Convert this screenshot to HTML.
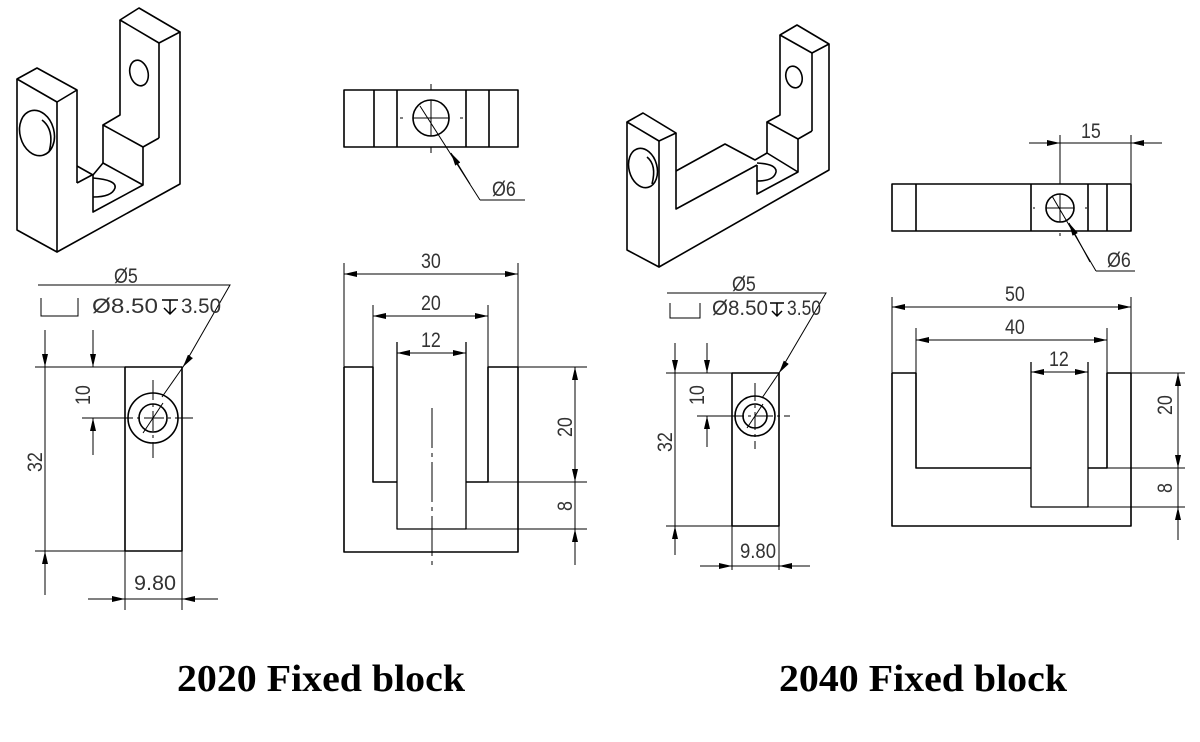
<!DOCTYPE html>
<html><head><meta charset="utf-8"><style>
html,body{margin:0;padding:0;background:#fff}
svg{display:block}
.l{stroke:#000;stroke-width:1.6;fill:none;stroke-linejoin:round}
.t{stroke:#000;stroke-width:1;fill:none}
.d{font-family:"Liberation Sans",sans-serif;font-size:21px;fill:#333}
.h{font-family:"Liberation Serif",serif;font-weight:bold;font-size:38px;fill:#000}
</style></head><body>
<svg width="1200" height="742" viewBox="0 0 1200 742" xmlns="http://www.w3.org/2000/svg">
<defs>
<marker id="a" markerUnits="userSpaceOnUse" markerWidth="14" markerHeight="6" refX="13" refY="3" orient="auto"><path d="M0,0 L13,3 L0,6 z" fill="#000"/></marker>
</defs>

<!-- ISO 1 -->
<g class="l">
<path d="M17,79 L37,68 L77,90 L57,102 Z"/>
<path d="M17,79 L17,230 L57,252 L57,102"/>
<path d="M57,252 L180,184 L180,32"/>
<path d="M77,90 L77,183"/>
<path d="M120,20 L139,8 L180,32 L159,43 Z"/>
<path d="M159,43 L159,138"/>
<path d="M120,20 L120,115 L103,125 L143,147 L159,138"/>
<path d="M103,125 L103,163"/>
<path d="M143,147 L143,185 L93,212 L93,175"/>
<path d="M77,166 L93,175 L103,163 L143,185"/>
<path d="M77,183 L92,175"/>
<path d="M93,178 Q117,180 115,188 Q112,197 93,197"/>
<ellipse cx="37" cy="133" rx="17" ry="23" transform="rotate(-15 37 133)"/>
<path d="M42,120 Q55,130 49,152"/>
<ellipse cx="139" cy="73" rx="9" ry="13" transform="rotate(-15 139 73)"/>
</g>

<!-- ISO 2 -->
<g class="l">
<path d="M627,122 L643,113 L676,133 L659,141 Z"/>
<path d="M627,122 L627,250 L659,267 L659,141"/>
<path d="M659,267 L829,170 L829,44"/>
<path d="M676,133 L676,209 L757,165"/>
<path d="M676,171 L725,144 L755,160 L767,153"/>
<path d="M780,35 L797,25 L829,44 L812,53 Z"/>
<path d="M812,53 L812,131"/>
<path d="M780,35 L780,115 L767,122 L798,139 L812,131"/>
<path d="M767,122 L767,153 L798,172"/>
<path d="M798,139 L798,172 L757,194 L757,165"/>
<path d="M757,163 Q777,164 776,172 Q774,181 757,181"/>
<ellipse cx="643" cy="168" rx="14" ry="20" transform="rotate(-15 643 168)"/>
<path d="M647,157 Q657,165 652,184"/>
<ellipse cx="794" cy="77" rx="8" ry="11" transform="rotate(-15 794 77)"/>
</g>

<!-- 2020 top view -->
<g class="l">
<rect x="344" y="90" width="174" height="57"/>
<path d="M374,90V147 M397,90V147 M466,90V147 M489,90V147"/>
<circle cx="431" cy="118" r="18"/>
</g>
<g class="t">
<path d="M431,84V90 M431,147V153 M400,118H403 M460,118H463 M413,118H449 M431,100V136"/>
<path d="M480,200 L420,106 M480,200 H525" />
<path d="M470,184 L451,153" marker-end="url(#a)"/>
</g>
<text class="d" transform="translate(492,196) scale(0.85,1)">Ø6</text>

<!-- 2020 side view -->
<g class="l">
<rect x="125" y="367" width="57" height="184"/>
<circle cx="153" cy="418" r="25"/>
<circle cx="153" cy="418" r="14"/>
</g>
<g class="t">
<path d="M82,418H193 M153,380V458" stroke-dasharray="20 4 3 4"/>
<path d="M143,433 L163,403"/>
<path d="M38,285H230 L183,367"/>
<path d="M183,367 L162,397" marker-start="url(#a)"/>
<path d="M41,298V316H78V298"/>
<path d="M35,367H125 M35,551H125"/>
<path d="M45,330V367" marker-end="url(#a)"/>
<path d="M45,367V551"/>
<path d="M45,595V551" marker-end="url(#a)"/>
<path d="M93,330V367" marker-end="url(#a)"/>
<path d="M93,455V418" marker-end="url(#a)"/>
<path d="M82,418H125"/>
<path d="M125,551V610 M182,551V610"/>
<path d="M88,599H125" marker-end="url(#a)"/>
<path d="M218,599H182" marker-end="url(#a)"/>
<path d="M125,599H182"/>
<path d="M162,300H178 M170,300V314 M164,308L170,314L176,308" stroke-width="1.5"/>
</g>
<text class="d" transform="translate(114,283) scale(0.85,1)">Ø5</text>
<text class="d" x="92" y="313" textLength="66" lengthAdjust="spacingAndGlyphs">Ø8.50</text>
<text class="d" x="181" y="313" textLength="40" lengthAdjust="spacingAndGlyphs">3.50</text>
<text class="d" x="134" y="590" textLength="42" lengthAdjust="spacingAndGlyphs">9.80</text>
<text class="d" transform="translate(42,472) rotate(-90) scale(0.85,1)">32</text>
<text class="d" transform="translate(90,405) rotate(-90) scale(0.85,1)">10</text>

<!-- 2020 front view -->
<g class="l">
<path d="M344,367V552H518V367H488V482H466 M344,367H373V482H397"/>
<path d="M397,342V529H466V342" stroke-width="1.3"/>
</g>
<g class="t">
<path d="M432,408V565" stroke-dasharray="40 5 4 5"/>
<path d="M344,263V367 M518,263V367 M373,305V367 M488,305V367 M397,342V345 M466,342V345"/>
<path d="M431,274H344" marker-end="url(#a)"/><path d="M431,274H518" marker-end="url(#a)"/>
<path d="M431,316H373" marker-end="url(#a)"/><path d="M431,316H488" marker-end="url(#a)"/>
<path d="M431,353H397" marker-end="url(#a)"/><path d="M431,353H466" marker-end="url(#a)"/>
<path d="M518,367H587 M488,482H587 M466,529H587"/>
<path d="M575,425V367" marker-end="url(#a)"/><path d="M575,425V482" marker-end="url(#a)"/>
<path d="M575,482V529"/>
<path d="M575,565V529" marker-end="url(#a)"/>
</g>
<text class="d" transform="translate(421,268) scale(0.85,1)">30</text>
<text class="d" transform="translate(421,310) scale(0.85,1)">20</text>
<text class="d" transform="translate(421,347) scale(0.85,1)">12</text>
<text class="d" transform="translate(572,437) rotate(-90) scale(0.85,1)">20</text>
<text class="d" transform="translate(572,511) rotate(-90) scale(0.85,1)">8</text>

<!-- 2040 side view -->
<g class="l">
<rect x="732" y="373" width="47" height="153"/>
<circle cx="755" cy="416" r="20"/>
<circle cx="755" cy="416" r="12"/>
</g>
<g class="t">
<path d="M697,416H790 M755,383V449" stroke-dasharray="18 4 3 4"/>
<path d="M747,428 L763,404"/>
<path d="M667,293H826 L779,373"/>
<path d="M779,373 L762,398" marker-start="url(#a)"/>
<path d="M670,303V318H700V303"/>
<path d="M666,373H732 M666,526H732"/>
<path d="M675,343V373" marker-end="url(#a)"/>
<path d="M675,373V526"/>
<path d="M675,555V526" marker-end="url(#a)"/>
<path d="M707,343V373" marker-end="url(#a)"/>
<path d="M707,447V416" marker-end="url(#a)"/>
<path d="M700,416H735"/>
<path d="M732,526V570 M779,526V570"/>
<path d="M700,566H732" marker-end="url(#a)"/>
<path d="M810,566H779" marker-end="url(#a)"/>
<path d="M732,566H779"/>
<path d="M770,303H784 M777,303V316 M772,311L777,316L782,311" stroke-width="1.5"/>
</g>
<text class="d" transform="translate(732,291) scale(0.85,1)">Ø5</text>
<text class="d" x="712" y="315" textLength="56" lengthAdjust="spacingAndGlyphs">Ø8.50</text>
<text class="d" x="787" y="315" textLength="34" lengthAdjust="spacingAndGlyphs">3.50</text>
<text class="d" x="740" y="558" textLength="36" lengthAdjust="spacingAndGlyphs">9.80</text>
<text class="d" transform="translate(672,452) rotate(-90) scale(0.85,1)">32</text>
<text class="d" transform="translate(704,405) rotate(-90) scale(0.85,1)">10</text>

<!-- 2040 top view -->
<g class="l">
<rect x="892" y="184" width="239" height="47"/>
<path d="M916,184V231 M1031,184V231 M1088,184V231 M1107,184V231"/>
<circle cx="1060" cy="208" r="14"/>
</g>
<g class="t">
<path d="M1060,135V184 M1131,135V184 M1060,194V222 M1046,208H1074 M1033,208H1035 M1085,208H1087 M1060,233V236"/>
<path d="M1029,143H1060" marker-end="url(#a)"/>
<path d="M1162,143H1131" marker-end="url(#a)"/>
<path d="M1060,143H1131"/>
<path d="M1096,271 L1052,196 M1096,271H1135"/>
<path d="M1090,262 L1069,223" marker-end="url(#a)"/>
</g>
<text class="d" transform="translate(1081,138) scale(0.85,1)">15</text>
<text class="d" transform="translate(1107,267) scale(0.85,1)">Ø6</text>

<!-- 2040 front view -->
<g class="l">
<path d="M892,373V526H1131V373H1107V468H1088 M892,373H916V468H1031"/>
<path d="M1031,362V507H1088V362" stroke-width="1.3"/>
</g>
<g class="t">
<path d="M892,297V373 M1131,297V373 M916,328V373 M1107,328V373 M1031,362V366 M1088,362V366"/>
<path d="M1011,307H892" marker-end="url(#a)"/><path d="M1011,307H1131" marker-end="url(#a)"/>
<path d="M1011,340H916" marker-end="url(#a)"/><path d="M1011,340H1107" marker-end="url(#a)"/>
<path d="M1060,372H1031" marker-end="url(#a)"/><path d="M1060,372H1088" marker-end="url(#a)"/>
<path d="M1131,373H1185 M1107,468H1185 M1088,507H1185"/>
<path d="M1178,420V373" marker-end="url(#a)"/><path d="M1178,420V468" marker-end="url(#a)"/>
<path d="M1178,468V507"/>
<path d="M1178,540V507" marker-end="url(#a)"/>
</g>
<text class="d" transform="translate(1005,301) scale(0.85,1)">50</text>
<text class="d" transform="translate(1005,334) scale(0.85,1)">40</text>
<text class="d" transform="translate(1049,366) scale(0.85,1)">12</text>
<text class="d" transform="translate(1172,415) rotate(-90) scale(0.85,1)">20</text>
<text class="d" transform="translate(1172,493) rotate(-90) scale(0.85,1)">8</text>

<text class="h" x="177" y="691" textLength="288" lengthAdjust="spacingAndGlyphs">2020 Fixed block</text>
<text class="h" x="779" y="691" textLength="288" lengthAdjust="spacingAndGlyphs">2040 Fixed block</text>
</svg>
</body></html>
